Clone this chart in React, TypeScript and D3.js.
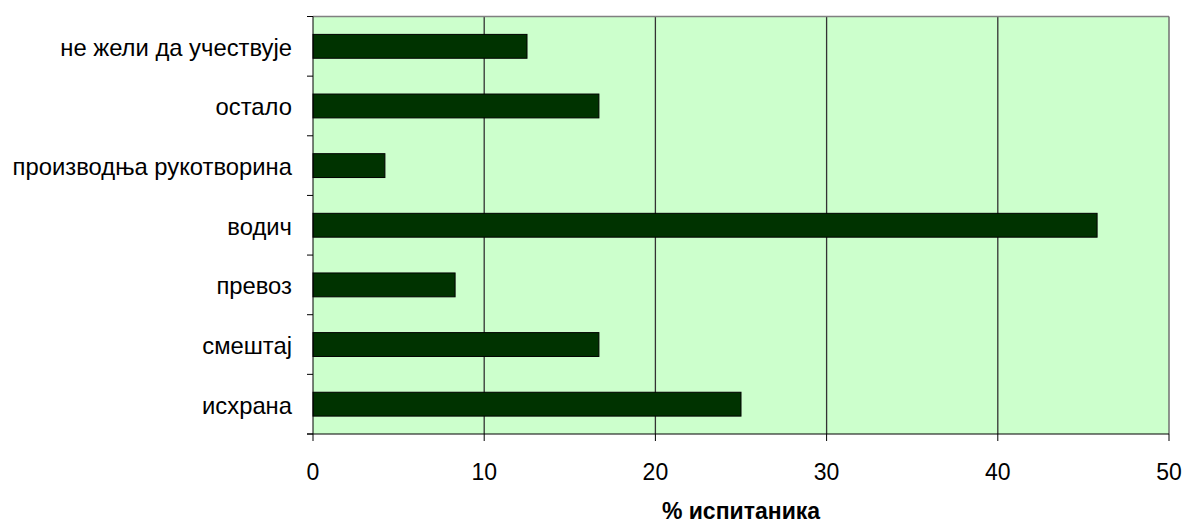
import React from "react";
import * as d3 from "d3";

const categories = ["не жели да учествује", "остало", "производња рукотворина", "водич", "превоз", "смештај", "исхрана"];
const values = [12.5, 16.7, 4.2, 45.8, 8.3, 16.7, 25.0];
const xTicks = [0, 10, 20, 30, 40, 50];
const xTitle = "% испитаника";

export default function App() {
  const W = 1184, H = 524;
  const left = 313, right = 1169, top = 16.5, bottom = 434;
  const x = d3.scaleLinear().domain([0, 50]).range([left, right]);
  const y = d3.scaleBand<string>().domain(categories).range([top, bottom]).paddingInner(0.6).paddingOuter(0.3);
  const band = (bottom - top) / categories.length;
  const font = "Liberation Sans, Arial, sans-serif";
  const fs = 23;
  return (
    <svg width={W} height={H} style={{ position: "absolute", left: 0, top: 0 }}>
      <rect x={left} y={top} width={right - left} height={bottom - top} fill="#CCFFCC" />
      {xTicks.slice(1, -1).map((t) => (
        <line key={t} x1={x(t)} x2={x(t)} y1={top} y2={bottom} stroke="#333" strokeWidth={1.3} />
      ))}
      <line x1={left} x2={right} y1={top} y2={top} stroke="#808080" strokeWidth={1.5} />
      <line x1={right} x2={right} y1={top} y2={bottom} stroke="#707070" strokeWidth={1.5} />
      {categories.map((c, i) => (
        <rect key={c} x={x(0)} y={y(c)!} width={x(values[i]) - x(0)} height={y.bandwidth()} fill="#003300" stroke="#000" strokeWidth={1} />
      ))}
      <line x1={left} x2={left} y1={top} y2={bottom} stroke="#000" strokeWidth={1} />
      <line x1={left - 6} x2={right} y1={bottom} y2={bottom} stroke="#000" strokeWidth={1} />
      {d3.range(categories.length + 1).map((i) => (
        <line key={i} x1={left - 6} x2={left} y1={top + i * band} y2={top + i * band} stroke="#000" />
      ))}
      {xTicks.map((t) => (
        <line key={t} x1={x(t)} x2={x(t)} y1={bottom} y2={bottom + 7} stroke="#000" />
      ))}
      {categories.map((c) => (
        <text key={c} x={292} y={y(c)! + y.bandwidth() / 2 + 9.5} textAnchor="end" fontFamily={font} fontSize={23.8} fill="#000">{c}</text>
      ))}
      {xTicks.map((t) => (
        <text key={t} x={x(t)} y={480} textAnchor="middle" fontFamily={font} fontSize={fs} fill="#000">{t}</text>
      ))}
      <text x={(left + right) / 2} y={519} textAnchor="middle" fontFamily={font} fontSize={fs} fontWeight="bold" fill="#000">{xTitle}</text>
    </svg>
  );
}
